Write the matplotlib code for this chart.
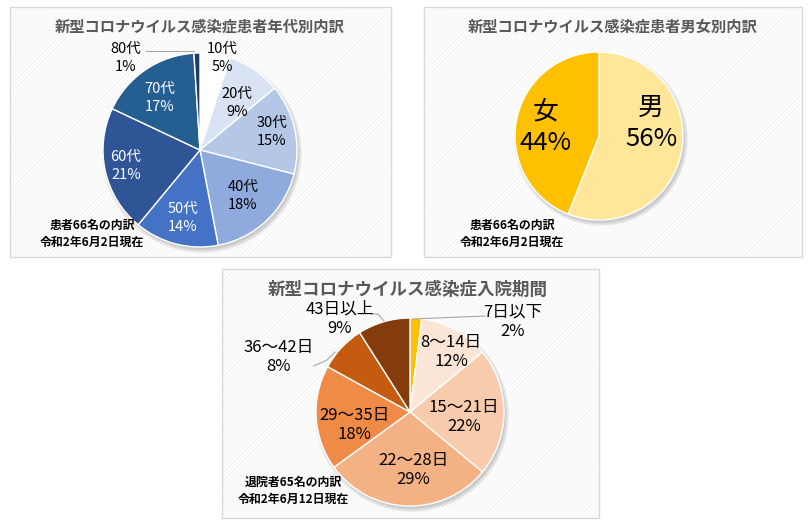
import matplotlib
matplotlib.use("Agg")
import matplotlib.pyplot as plt
from matplotlib.patches import Rectangle, Circle

plt.rcParams['font.family'] = ['Noto Sans CJK JP', 'DejaVu Sans']
plt.rcParams['hatch.linewidth'] = 0.6

# ---------------- data ----------------
age_labels = ["10代", "20代", "30代", "40代", "50代", "60代", "70代", "80代"]
age_values = [5, 9, 15, 18, 14, 21, 17, 1]
age_colors = ["#FFFFFF", "#DAE3F3", "#B4C7E7", "#8FAADC", "#4472C4", "#2F5597", "#255E91", "#1F3864"]
age_text_colors = ["black", "black", "black", "black", "white", "white", "white", "black"]

sex_labels = ["男", "女"]
sex_values = [56, 44]
sex_colors = ["#FFE699", "#FFC000"]

stay_labels = ["7日以下", "8～14日", "15～21日", "22～28日", "29～35日", "36～42日", "43日以上"]
stay_values = [2, 12, 22, 29, 18, 8, 9]
stay_colors = ["#FFC000", "#FBE5D6", "#F8CBAD", "#F4B183", "#F08B47", "#C55A11", "#843C0C"]

titles = ["新型コロナウイルス感染症患者年代別内訳",
          "新型コロナウイルス感染症患者男女別内訳",
          "新型コロナウイルス感染症入院期間"]
notes = ["患者66名の内訳\n令和2年6月2日現在",
         "患者66名の内訳\n令和2年6月2日現在",
         "退院者65名の内訳\n令和2年6月12日現在"]

W, H = 809, 523
fig = plt.figure(figsize=(W / 100, H / 100), dpi=100)
fig.patch.set_facecolor("white")

# background axis in pixel coords
bg = fig.add_axes([0, 0, 1, 1])
bg.set_xlim(0, W)
bg.set_ylim(H, 0)
bg.axis("off")

panels = [(10, 7, 381, 250), (424, 7, 378, 250), (222, 269, 377, 249)]
for (x, y, w, h) in panels:
    bg.add_patch(Rectangle((x, y), w, h, facecolor="white", edgecolor="#F1F1F1",
                           hatch="////////", linewidth=0, zorder=1))
    bg.add_patch(Rectangle((x, y), w, h, facecolor="none", edgecolor="#D9D9D9",
                           linewidth=1.0, zorder=2))

pies = [((200, 150), 97, age_values, age_colors),
        ((599, 136), 84, sex_values, sex_colors),
        ((410, 412), 94, stay_values, stay_colors)]

for (cx, cy), r, vals, cols in pies:
    # soft shadow
    for k in range(4):
        bg.add_patch(Circle((cx + 2, cy + 3), r + 3 - k * 1.2, facecolor="#000000",
                            alpha=0.05, edgecolor="none", zorder=3))
    ax = fig.add_axes([(cx - r) / W, 1 - (cy + r) / H, 2 * r / W, 2 * r / H])
    ax.pie(vals, colors=cols, startangle=90, counterclock=False, radius=1,
           wedgeprops=dict(edgecolor="white", linewidth=1.0))
    ax.set_xlim(-1.0, 1.0)
    ax.set_ylim(-1.0, 1.0)
    ax.set_aspect("equal")
    ax.axis("off")

# overlay axis for texts
ov = fig.add_axes([0, 0, 1, 1])
ov.set_xlim(0, W)
ov.set_ylim(H, 0)
ov.axis("off")
ov.patch.set_alpha(0)

title_pos = [(200, 27, 11.0), (613, 27, 11.0), (408, 290, 12.6)]
for t, (x, y, fs) in zip(titles, title_pos):
    ov.text(x, y, t, ha="center", va="center", fontsize=fs, color="#595959",
            fontweight="bold")

note_pos = [(92, 234), (512, 234), (293, 491)]
for n, (x, y) in zip(notes, note_pos):
    ov.text(x, y, n, ha="center", va="center", fontsize=8.6, color="black",
            fontweight="bold", linespacing=1.4)

# panel 1 labels
age_pos = [(222, 58), (237, 103), (272, 132), (243, 196), (183, 218),
           (126, 166), (160, 98), (126, 58)]
for lab, v, (x, y), c in zip(age_labels, age_values, age_pos, age_text_colors):
    ov.text(x, y, f"{lab}\n{v}%", ha="center", va="center", fontsize=10.5,
            color=c, linespacing=1.3)
ov.plot([146, 194], [51, 51], color="#A6A6A6", lw=0.8)

# panel 2 labels
sex_pos = [(651, 123), (546, 127)]
for lab, v, (x, y) in zip(sex_labels, sex_values, sex_pos):
    ov.text(x, y, f"{lab}\n{v}%", ha="center", va="center", fontsize=18.5,
            color="black", linespacing=1.25)

# panel 3 labels
stay_pos = [(513, 322), (451, 352), (464, 417), (413, 470), (354, 425),
            (279, 357), (340, 319)]
for lab, v, (x, y) in zip(stay_labels, stay_values, stay_pos):
    ov.text(x, y, f"{lab}\n{v}%", ha="center", va="center", fontsize=12,
            color="black", linespacing=1.2)
ov.plot([413, 485], [319, 316], color="#A6A6A6", lw=0.8)
ov.plot([372, 378, 384], [314, 314, 321], color="#A6A6A6", lw=0.8)
ov.plot([314, 327, 335], [366, 360, 352], color="#A6A6A6", lw=0.8)

fig.savefig("out.png", dpi=100, facecolor="white")
